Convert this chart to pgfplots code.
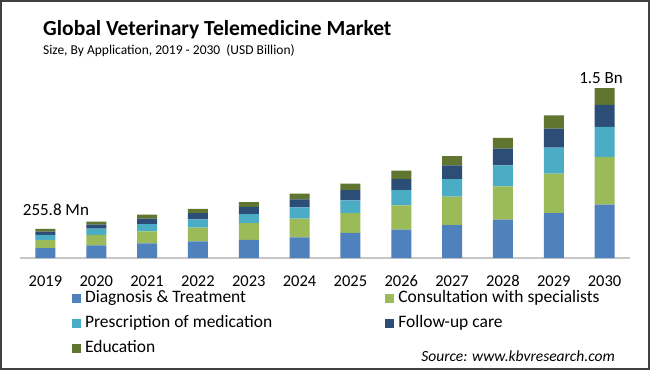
\documentclass[border=0pt]{standalone}
\usepackage{pgfplots}
\pgfplotsset{compat=1.18}
\usepackage{pgfplotstable}
\usepackage{fontspec}
\setmainfont{Carlito}
\definecolor{cDiag}{HTML}{4F81BD}
\definecolor{cCons}{HTML}{9BBB59}
\definecolor{cPres}{HTML}{4BACC6}
\definecolor{cFoll}{HTML}{2C4D75}
\definecolor{cEdu}{HTML}{5F7530}
\definecolor{cFrame}{HTML}{404040}
\pgfplotstableread{
year diag cons pres foll edu
2019 0.088 0.069 0.047 0.028 0.024
2020 0.111 0.092 0.056 0.035 0.026
2021 0.129 0.106 0.065 0.047 0.035
2022 0.146 0.121 0.073 0.056 0.038
2023 0.161 0.147 0.079 0.064 0.041
2024 0.182 0.165 0.100 0.071 0.050
2025 0.221 0.176 0.111 0.092 0.056
2026 0.250 0.214 0.136 0.097 0.073
2027 0.291 0.250 0.156 0.120 0.083
2028 0.338 0.294 0.185 0.147 0.097
2029 0.397 0.347 0.229 0.168 0.117
2030 0.470 0.421 0.267 0.194 0.148
}\data
\begin{document}
\begin{tikzpicture}
\path[fill=white] (0pt,0pt) rectangle (650pt,370pt);
\draw[color=cFrame, line width=2pt] (1pt,1pt) rectangle (649pt,369pt);
\node[anchor=base west, inner sep=0pt] at (43pt,334pt) {\fontsize{21.5}{26}\selectfont\bfseries Global Veterinary Telemedicine Market};
\node[anchor=base west, inner sep=0pt] at (43pt,315pt) {\fontsize{13.5}{15}\selectfont Size, By Application, 2019 - 2030\ \ (USD Billion)};
\node[anchor=base east, inner sep=0pt] at (615pt,8.3pt) {\fontsize{15.5}{18}\selectfont\itshape Source: www.kbvresearch.com};
\begin{axis}[
  at={(20pt,112pt)}, anchor=south west, scale only axis,
  width=610pt, height=178pt,
  ybar stacked, bar width=20pt,
  ymin=0, ymax=1.5706, xmin=2018.5, xmax=2030.5,
  axis y line=none, axis x line*=bottom,
  x axis line style={-, draw=gray!45, line width=1.2pt},
  xtick=data, major tick length=0pt, xtick style={draw=none},
  /pgf/number format/assume math mode=true,
  /pgf/number format/1000 sep={},
  xticklabel style={font=\fontsize{16.5}{18}\selectfont, anchor=base, yshift=-28pt},
  clip=false,
  legend cell align=left,
  legend columns=2,
  legend style={at={(axis description cs:0.085,-0.174)}, anchor=north west,
    draw=none, fill=none, inner sep=0pt,
    font=\fontsize{17.5}{19}\selectfont,
    nodes={text height=12pt, text depth=4pt, inner sep=1pt},
    row sep=7pt,
    /tikz/every odd column/.append style={column sep=3pt},
    /tikz/every even column/.append style={column sep=112pt}},
  legend image code/.code={\fill[#1, draw=none] (0pt,-4.5pt) rectangle (9pt,4.5pt);},
]
\addplot[fill=cDiag, draw=none] table[x=year, y=diag] {\data};
\addplot[fill=cCons, draw=none] table[x=year, y=cons] {\data};
\addplot[fill=cPres, draw=none] table[x=year, y=pres] {\data};
\addplot[fill=cFoll, draw=none] table[x=year, y=foll] {\data};
\addplot[fill=cEdu, draw=none] table[x=year, y=edu] {\data};
\legend{Diagnosis \& Treatment, Consultation with specialists, Prescription of medication, Follow-up care, Education}
\node[anchor=base, font=\fontsize{17}{20}\selectfont, xshift=10.5pt, yshift=13.3pt] at (axis cs:2019,0.256) {255.8 Mn};
\node[anchor=base, font=\fontsize{17}{20}\selectfont, xshift=-3.5pt, yshift=5pt] at (axis cs:2030,1.500) {1.5 Bn};
\end{axis}
\end{tikzpicture}
\end{document}
